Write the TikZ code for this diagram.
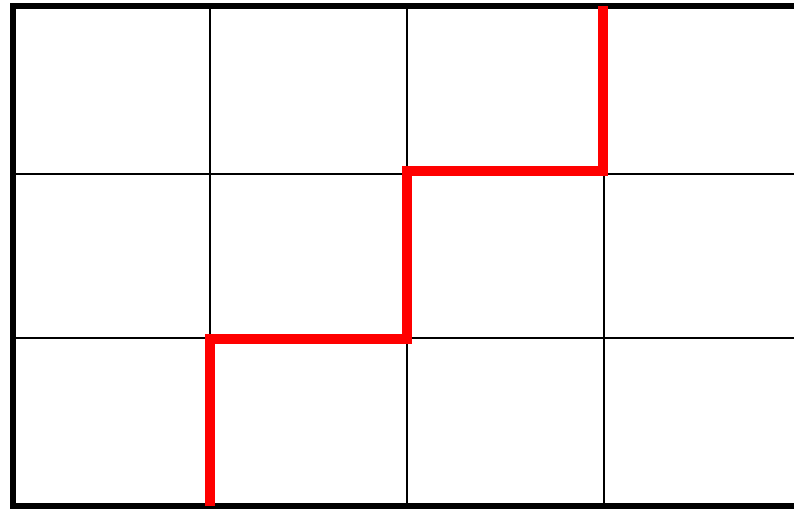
\documentclass[tikz,border=0pt]{standalone}
\usepackage{tikz}
\usetikzlibrary{positioning}

\begin{document}
\begin{tikzpicture}[x=0.02cm, y=-0.02cm]
    \useasboundingbox (0,0) rectangle (794,508);
    \clip (0,0) rectangle (794,508);

    % Grid lines
    \draw[line width=1.1pt] (210,6) -- (210,506);
    \draw[line width=1.1pt] (407,6) -- (407,506);
    \draw[line width=1.1pt] (604,6) -- (604,506);
    \draw[line width=1.1pt] (13,174) -- (801,174);
    \draw[line width=1.1pt] (13,338) -- (801,338);

    % Outer frame
    \draw[line width=3.4pt] (13,6) rectangle (801,506);

    % Staircase path
    \coordinate (start) at (210,506);
    \coordinate (stepA) at (210,339);
    \coordinate (stepB) at (407,339);
    \coordinate (stepC) at (407,171);
    \coordinate (stepD) at (603,171);
    \coordinate (finish) at (603,6);
    \draw[red, line width=6.2pt, line join=miter] (start) -- (stepA) -- (stepB) -- (stepC) -- (stepD) -- (finish);
\end{tikzpicture}
\end{document}
